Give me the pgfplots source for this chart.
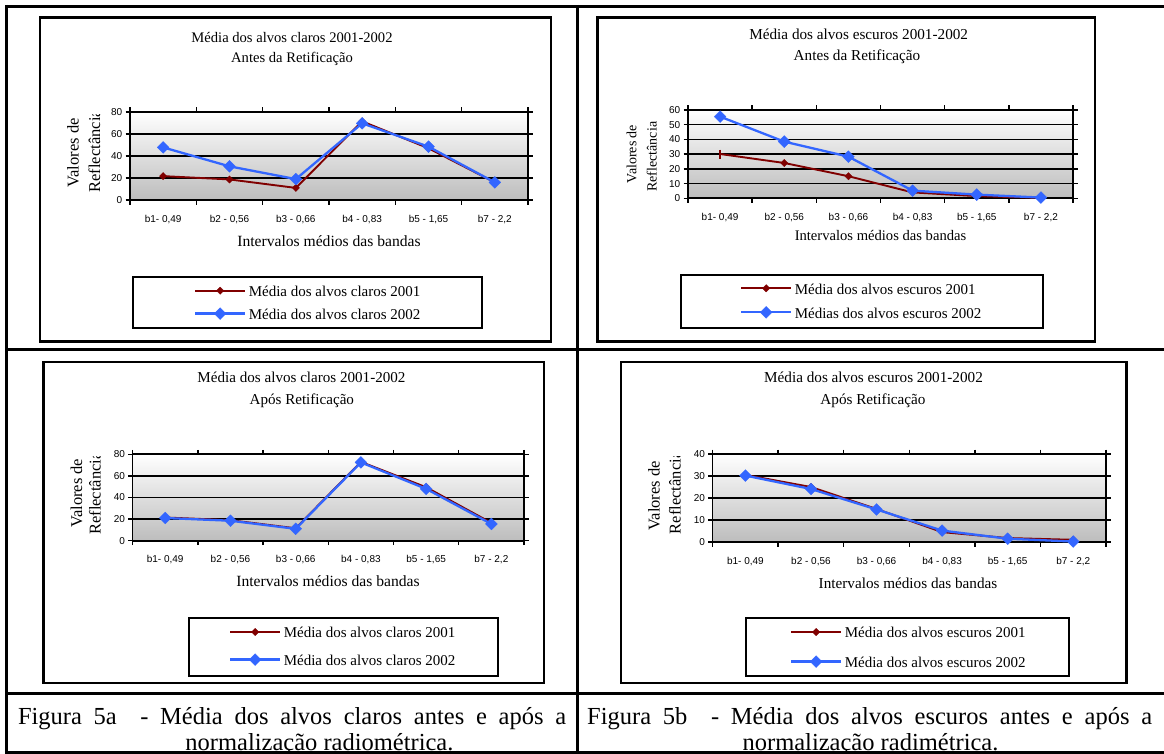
\documentclass[border=0pt]{standalone}
\usepackage{pgfplots}
\pgfplotsset{compat=1.18}
\usepackage{fontspec}
\setmainfont{Liberation Serif}
\newfontfamily\arialf{Liberation Sans}
\definecolor{darkred}{RGB}{128,0,0}
\definecolor{lineblue}{RGB}{51,102,255}
\newcommand{\fs}[1]{\fontsize{#1pt}{#1pt}\selectfont}

\tikzset{lab/.style={inner sep=0pt, anchor=base}}

\pgfplotsset{
  chartstyle/.style={
    scale only axis,
    xmin=0, xmax=6,
    xtick={0,1,2,3,4,5,6},
    x tick label as interval,
    xticklabels={{b1- 0,49},{b2 - 0,56},{b3 - 0,66},{b4 - 0,83},{b5 - 1,65},{b7 - 2,2},{}},
    ymin=0,
    ymajorgrids,
    grid style={black, line width=1.5pt},
    axis line style={black, line width=1.7pt},
    tick align=outside,
    major tick length=4.5pt,
    tick style={black, line width=1.4pt},
    ticklabel style={font=\arialf\fs{10}},
    /pgf/number format/assume math mode=true,
    xticklabel style={anchor=base, inner sep=0pt, yshift=-17.5pt},
    yticklabel style={anchor=east, inner sep=0pt, xshift=-3pt},
    axis background/.style={top color=white, bottom color=gray!52},
    clip=false,
    legend cell align=left,
    legend image code/.code={\draw[mark repeat=2,mark phase=2,##1] plot coordinates {(0pt,0.8pt) (25pt,0.8pt) (50pt,0.8pt)};},
    legend style={anchor=north west, draw=none, fill=none, inner sep=0pt, outer sep=0pt,
      font=\fs{15}, column sep=2.5pt,
      nodes={inner sep=0pt, text height=11pt, text depth=1pt}},
  },
  s01/.style={darkred, line width=1.9pt, mark=square*, mark size=2.6pt,
    mark options={rotate=45, line width=0.3pt, fill=darkred, solid}},
  s02/.style={lineblue, line width=2.3pt, mark=square*, mark size=4.2pt,
    mark options={rotate=45, line width=0.3pt, fill=lineblue, solid}},
}

\begin{document}
\begin{tikzpicture}
\useasboundingbox (0pt,0pt) rectangle (1164pt,-754pt);
\fill[white] (0pt,0pt) rectangle (1164pt,-754pt);

% ---------- table lines ----------
\begin{scope}[line width=2.8pt, black]
\draw (6.7pt,-6.3pt) -- (1164pt,-6.3pt);
\draw (6.7pt,-349.5pt) -- (1164pt,-349.5pt);
\draw (6.7pt,-693.5pt) -- (1164pt,-693.5pt);
\draw (6.7pt,-752.8pt) -- (1164pt,-752.8pt);
\draw (6.7pt,-5pt) -- (6.7pt,-754pt);
\draw (577.7pt,-5pt) -- (577.7pt,-754pt);
\end{scope}

% ---------- chart boxes and legend frames ----------
\begin{scope}[line width=2.4pt, black]
\draw (39.8pt,-17.7pt) rectangle (550.7pt,-341.3pt);
\draw (597.6pt,-17.7pt) rectangle (1094.8pt,-341.3pt);
\draw (43.5pt,-361.7pt) rectangle (543.7pt,-682.7pt);
\draw (620.7pt,-361.7pt) rectangle (1126.3pt,-682.7pt);
\end{scope}
\begin{scope}[line width=2pt, black]
\draw (132.7pt,-276.7pt) rectangle (482.3pt,-328.3pt);
\draw (680.7pt,-275pt) rectangle (1043pt,-328pt);
\draw (189pt,-617.7pt) rectangle (498pt,-675.7pt);
\draw (746pt,-617.7pt) rectangle (1069pt,-675.7pt);
\end{scope}

% ---------- TL ----------
\begin{axis}[chartstyle, at={(130pt,-200pt)}, anchor=south west, width=398pt, height=88pt,
  ymax=80, ytick={0,20,40,60,80},
  legend style={at={(0.1608,-0.9716)}, row sep=10.2pt}]
\addplot[s01] coordinates {(0.5,21.7) (1.5,18.7) (2.5,11) (3.5,71.5) (4.5,47) (5.5,16)};
\addlegendentry{Média dos alvos claros 2001}
\addplot[s02] coordinates {(0.5,47.8) (1.5,30.6) (2.5,19) (3.5,69.7) (4.5,48.5) (5.5,16)};
\addlegendentry{Média dos alvos claros 2002}
\end{axis}

% ---------- TR ----------
\begin{axis}[chartstyle, at={(688pt,-198.3pt)}, anchor=south west, width=385pt, height=88.3pt,
  ymax=60, ytick={0,10,20,30,40,50,60},
  legend image post style={mark indices={2}},
  legend style={at={(0.1351,-0.9604)}, row sep=11.3pt}]
\addplot[s01, mark indices={2,3,4,5,6}] coordinates {(0.5,30.1) (1.5,24) (2.5,15) (3.5,4) (4.5,1.5) (5.5,0.3)};
\addlegendentry{Média dos alvos escuros 2001}
\addplot[s02] coordinates {(0.5,55.5) (1.5,38.5) (2.5,28.3) (3.5,5.2) (4.5,2.5) (5.5,0.5)};
\addlegendentry{Médias dos alvos escuros 2002}
\addplot[darkred, only marks, mark=|, mark size=4.5pt, mark options={line width=1.8pt}, forget plot] coordinates {(0.5,30.1)};
\end{axis}

% ---------- BL ----------
\begin{axis}[chartstyle, at={(132.6pt,-540.7pt)}, anchor=south west, width=391.4pt, height=86.4pt,
  ymax=80, ytick={0,20,40,60,80},
  legend style={at={(0.2463,-0.9965)}, row sep=14.9pt}]
\addplot[s01] coordinates {(0.5,21.5) (1.5,19) (2.5,11.5) (3.5,73) (4.5,49.5) (5.5,16.5)};
\addlegendentry{Média dos alvos claros 2001}
\addplot[s02] coordinates {(0.5,21) (1.5,18.5) (2.5,11) (3.5,72.5) (4.5,48) (5.5,15.5)};
\addlegendentry{Média dos alvos claros 2002}
\end{axis}

% ---------- BR ----------
\begin{axis}[chartstyle, at={(712.6pt,-542pt)}, anchor=south west, width=393.4pt, height=88pt,
  ymax=40, ytick={0,10,20,30,40},
  legend style={at={(0.1967,-0.9636)}, row sep=16.9pt}]
\addplot[s01] coordinates {(0.5,30.5) (1.5,25) (2.5,15) (3.5,4.5) (4.5,1.8) (5.5,1.0)};
\addlegendentry{Média dos alvos escuros 2001}
\addplot[s02] coordinates {(0.5,30.2) (1.5,24.1) (2.5,14.8) (3.5,5.2) (4.5,1.5) (5.5,0.2)};
\addlegendentry{Média dos alvos escuros 2002}
\end{axis}

% ---------- titles ----------
\node[lab, font=\fs{14.6}] at (292pt,-42.3pt) {Média dos alvos claros 2001-2002};
\node[lab, font=\fs{14.6}] at (292pt,-62.3pt) {Antes da Retificação};
\node[lab, font=\fs{15.2}] at (858.7pt,-40pt) {Média dos alvos escuros 2001-2002};
\node[lab, font=\fs{15.2}] at (857pt,-60.7pt) {Antes da Retificação};
\node[lab, font=\fs{15.1}] at (301.5pt,-382pt) {Média dos alvos claros 2001-2002};
\node[lab, font=\fs{15.1}] at (301.8pt,-404.3pt) {Após Retificação};
\node[lab, font=\fs{15.2}] at (873.5pt,-382.3pt) {Média dos alvos escuros 2001-2002};
\node[lab, font=\fs{15.2}] at (873pt,-404.3pt) {Após Retificação};

% ---------- x labels ----------
\node[lab, font=\fs{15.6}] at (329pt,-246pt) {Intervalos médios das bandas};
\node[lab, font=\fs{14.6}] at (880.5pt,-240.7pt) {Intervalos médios das bandas};
\node[lab, font=\fs{15.6}] at (328pt,-586pt) {Intervalos médios das bandas};
\node[lab, font=\fs{15.2}] at (908pt,-588.3pt) {Intervalos médios das bandas};

% ---------- y labels ----------
\node[lab, rotate=90, font=\fs{16.5}] at (78.5pt,-153pt) {Valores de};
\begin{scope}
\clip (50pt,-115pt) rectangle (125pt,-230pt);
\node[inner sep=0pt, anchor=base west, rotate=90, font=\fs{16.5}] at (100pt,-192.7pt) {Reflectância};
\end{scope}
\node[lab, rotate=90, font=\fs{14}] at (636.3pt,-154.2pt) {Valores de};
\node[lab, rotate=90, font=\fs{14}] at (656.7pt,-156.7pt) {Reflectância};
\node[lab, rotate=90, font=\fs{16.5}] at (82.2pt,-493.3pt) {Valores de};
\begin{scope}
\clip (50pt,-456.7pt) rectangle (125pt,-570pt);
\node[inner sep=0pt, anchor=base west, rotate=90, font=\fs{16.5}] at (100.7pt,-535pt) {Reflectância};
\end{scope}
\node[lab, rotate=90, font=\fs{16.5}] at (659.6pt,-495.8pt) {Valores de};
\begin{scope}
\clip (630pt,-456.7pt) rectangle (705pt,-570pt);
\node[inner sep=0pt, anchor=base west, rotate=90, font=\fs{16.5}] at (680.7pt,-534.3pt) {Reflectância};
\end{scope}

% ---------- captions ----------
\node[inner sep=0pt, anchor=base west, font=\fs{24.5}] at (17.8pt,-724.5pt)
  {\makebox[548.2pt][s]{Figura 5a\ \ - Média dos alvos claros antes e após a}};
\node[lab, font=\fs{24.5}] at (319.4pt,-750pt) {normalização radiométrica.};
\node[inner sep=0pt, anchor=base west, font=\fs{24.5}] at (587pt,-724.5pt)
  {\makebox[565pt][s]{Figura 5b\ \ - Média dos alvos escuros antes e após a}};
\node[lab, font=\fs{24.5}] at (870.5pt,-750pt) {normalização radimétrica.};
\end{tikzpicture}
\end{document}
